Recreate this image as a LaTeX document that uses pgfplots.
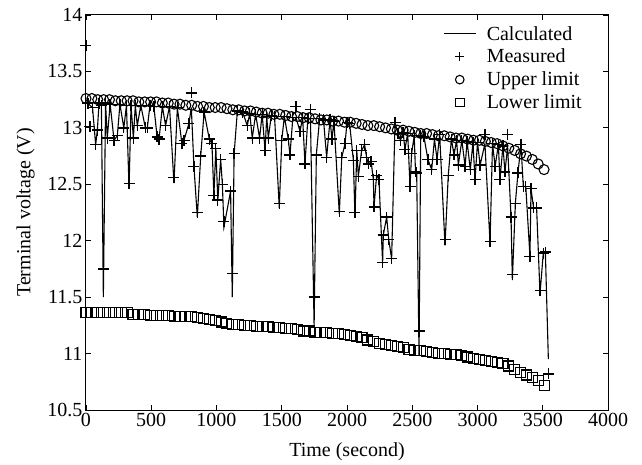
\documentclass[border=0pt]{standalone}
\usepackage{fontspec}
\setmainfont{Liberation Serif}
\usepackage{pgfplots}
\usepackage{pgfplotstable}
\pgfplotsset{compat=1.18}
\pgfplotsset{
  lineleg/.style={legend image code/.code={\path[draw=none,fill=none] (0pt,-1pt) rectangle (41pt,1pt); \draw[##1] (0pt,0pt) -- (32pt,0pt);}},
  markleg/.style={legend image code/.code={\path[draw=none,fill=none] (0pt,-1pt) rectangle (41pt,1pt); \draw[##1, mark size=4.3pt] plot coordinates {(16pt,0pt)};}},
}

\pgfplotstableread{
t calc meas
0 13.25 13.73
15 13.22 13.22
30 13.20 13.01
50 13.18 13.18
74 12.85 12.85
87 12.98 12.98
100 13.22 13.22
118 13.20 13.20
133 11.50 11.75
150 13.22 13.22
163 12.91 12.91
185 13.21 13.21
215 12.89 12.89
240 12.93 12.93
260 13.21 13.21
290 13.00 13.00
310 13.20 13.20
330 12.46 12.51
345 13.20 13.20
363 12.91 12.91
378 13.20 13.20
393 13.02 13.02
420 13.20 13.20
455 13.00 13.00
470 13.00 13.00
490 13.20 13.20
520 13.19 13.19
545 12.92 12.92
560 12.90 12.90
585 13.19 13.19
610 13.02 13.02
640 13.19 13.19
674 12.51 12.56
700 13.18 13.18
735 12.86 12.86
751 12.89 12.89
789 13.04 13.04
807 13.18 13.31
827 12.66 12.66
853 12.21 12.25
879 12.75 12.75
905 13.14 13.14
945 12.90 12.90
965 12.86 12.86
980 12.40 12.40
995 12.82 12.82
1010 12.36 12.36
1032 12.72 12.72
1045 12.50 12.50
1057 12.12 12.17
1108 12.44 12.44
1121 11.50 11.71
1135 12.77 12.77
1160 13.15 13.15
1200 13.14 13.14
1236 13.02 13.02
1255 13.13 13.13
1274 12.91 12.91
1300 13.12 13.12
1330 12.91 12.91
1350 13.12 13.12
1372 12.80 12.80
1385 13.10 13.10
1397 12.91 12.91
1420 13.11 13.11
1445 13.10 13.10
1481 12.29 12.33
1500 12.89 12.89
1520 13.10 13.10
1550 12.90 12.90
1563 12.76 12.76
1585 13.09 13.09
1609 13.09 13.19
1640 12.97 12.97
1660 13.09 13.09
1678 12.68 12.68
1700 13.08 13.08
1720 13.08 13.16
1748 11.24 11.50
1765 12.76 12.76
1790 13.08 13.08
1820 13.07 13.07
1844 12.74 12.74
1870 13.07 13.07
1885 12.90 12.90
1900 13.06 13.06
1941 12.24 12.26
1960 12.74 12.74
1985 12.86 12.86
2000 13.05 13.05
2020 13.04 13.04
2049 12.71 12.71
2061 12.21 12.25
2075 12.80 12.80
2087 12.57 12.57
2112 12.80 12.80
2135 12.85 12.85
2150 12.74 12.74
2163 12.68 12.68
2185 12.70 12.70
2202 12.54 12.54
2207 12.30 12.30
2227 12.58 12.58
2245 12.54 12.54
2273 11.80 11.81
2278 12.05 12.05
2304 12.21 12.21
2320 12.01 12.01
2342 11.84 11.84
2368 13.05 13.05
2390 12.95 12.95
2410 12.89 12.89
2430 12.96 12.96
2444 12.81 12.81
2465 12.95 12.95
2483 12.48 12.48
2495 12.77 12.77
2515 12.93 12.93
2525 12.61 12.61
2534 12.60 12.60
2552 10.98 11.20
2565 12.93 12.93
2590 12.92 12.92
2620 12.72 12.72
2649 12.63 12.63
2670 12.90 12.90
2690 12.72 12.72
2710 12.94 12.94
2751 11.96 12.01
2776 12.58 12.58
2800 12.90 12.90
2820 12.76 12.76
2840 12.89 12.89
2853 12.67 12.67
2880 12.89 12.89
2905 12.66 12.66
2920 12.88 12.88
2945 12.63 12.63
2965 12.87 12.87
2981 12.54 12.54
3000 12.87 12.87
3020 12.67 12.67
3057 12.86 12.94
3096 11.98 11.99
3115 12.86 12.86
3135 12.66 12.66
3160 12.85 12.85
3172 12.54 12.54
3195 12.84 12.84
3210 12.61 12.61
3231 12.83 12.94
3257 12.21 12.21
3267 11.65 11.70
3290 12.33 12.33
3310 12.60 12.60
3333 12.85 12.85
3351 12.48 12.48
3370 12.48 12.48
3402 11.86 11.86
3410 12.46 12.46
3430 12.29 12.29
3453 12.29 12.29
3479 11.53 11.56
3504 11.89 11.89
3520 11.90 11.90
3543 10.95 10.82
}\measured

\pgfplotstableread{
t upper lower
0 13.26 11.36
45 13.26 11.36
90 13.25 11.36
135 13.25 11.36
180 13.25 11.36
225 13.24 11.36
270 13.24 11.36
315 13.24 11.36
360 13.24 11.35
405 13.23 11.35
450 13.23 11.35
495 13.23 11.34
540 13.23 11.34
585 13.22 11.34
630 13.22 11.34
675 13.21 11.33
720 13.21 11.33
765 13.20 11.33
810 13.20 11.33
855 13.19 11.32
900 13.19 11.31
945 13.18 11.30
990 13.18 11.29
1035 13.18 11.28
1080 13.17 11.27
1125 13.16 11.26
1170 13.16 11.26
1215 13.15 11.25
1260 13.15 11.25
1305 13.14 11.24
1350 13.13 11.24
1395 13.13 11.24
1440 13.12 11.23
1485 13.12 11.23
1530 13.11 11.22
1575 13.10 11.22
1620 13.10 11.21
1665 13.09 11.20
1710 13.09 11.20
1755 13.08 11.19
1800 13.07 11.19
1845 13.07 11.19
1890 13.06 11.18
1935 13.06 11.18
1980 13.05 11.17
2025 13.05 11.16
2070 13.04 11.15
2115 13.03 11.14
2160 13.02 11.12
2205 13.02 11.11
2250 13.01 11.09
2295 13.00 11.08
2340 12.99 11.07
2385 12.98 11.06
2430 12.98 11.05
2475 12.97 11.04
2520 12.96 11.03
2565 12.95 11.03
2610 12.95 11.02
2655 12.94 11.01
2700 12.93 11.00
2745 12.93 11.00
2790 12.92 10.99
2835 12.91 10.99
2880 12.91 10.98
2925 12.90 10.97
2970 12.89 10.96
3015 12.89 10.95
3060 12.88 10.94
3105 12.87 10.93
3150 12.86 10.92
3195 12.84 10.91
3240 12.82 10.89
3285 12.80 10.86
3330 12.77 10.83
3375 12.75 10.81
3420 12.72 10.79
3465 12.68 10.76
3510 12.63 10.72
}\limits

\begin{document}
\begin{tikzpicture}
\begin{axis}[
  scale only axis,
  width=522pt, height=395pt,
  xmin=0, xmax=4000, ymin=10.5, ymax=14,
  xtick={0,500,...,4000},
  ytick={10.5,11,...,14},
  scaled x ticks=false,
  /pgf/number format/1000 sep={},
  /pgf/number format/assume math mode=true,
  tick align=inside,
  xtick pos=both, ytick pos=both,
  major tick length=5pt,
  tick style={black, line width=0.9pt},
  axis line style={line width=1pt},
  clip=false,
  tick label style={font=\fontsize{20}{24}\selectfont},
  label style={font=\fontsize{20}{24}\selectfont},
  xlabel={Time (second)},
  ylabel={Terminal voltage (V)},
  xlabel style={yshift=-9pt},
  ylabel style={yshift=6pt},
  legend style={draw=none, fill=none, at={(0.682,1.0)}, anchor=north west,
    yshift=-8pt,
    font=\fontsize{20}{22}\selectfont, row sep=3.5pt,
    inner sep=1pt, cells={anchor=west}},
]
\addplot[black, line width=1.1pt, mark=none, lineleg]
  table[x=t, y=calc] {\measured};
\addlegendentry{Calculated}
\addplot[only marks, mark=+, mark size=5.5pt, line width=1.3pt, black, markleg]
  table[x=t, y=meas] {\measured};
\addlegendentry{Measured}
\addplot[only marks, mark=o, mark size=5pt, line width=1.1pt, black, markleg]
  table[x=t, y=upper] {\limits};
\addlegendentry{Upper limit}
\addplot[only marks, mark=square, mark size=5pt, line width=1.1pt, black, markleg]
  table[x=t, y=lower] {\limits};
\addlegendentry{Lower limit}
\end{axis}
\path ([shift={(-86pt,-54pt)}]current axis.south west) rectangle ([shift={(34pt,15pt)}]current axis.north east);
\end{tikzpicture}
\end{document}
